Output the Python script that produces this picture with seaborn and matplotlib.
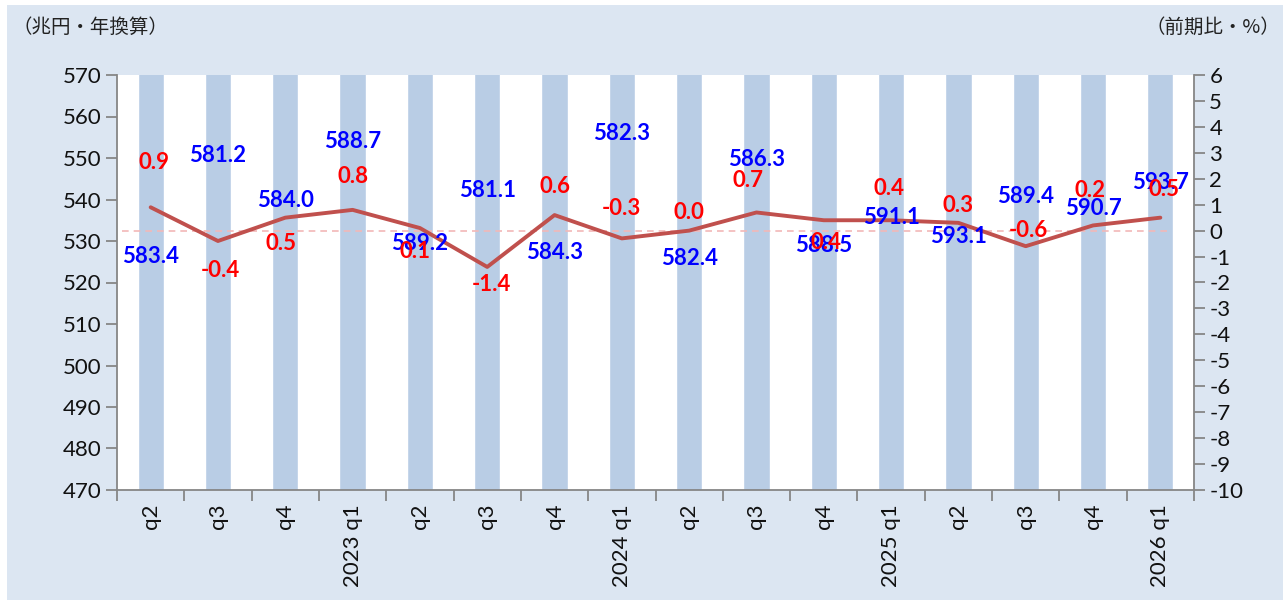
import numpy as np
import pandas as pd
import matplotlib
matplotlib.use("Agg")
import matplotlib.pyplot as plt
from matplotlib.patches import Rectangle
import seaborn as sns

# ---- data ----
categories = ["q2", "q3", "q4", "2023 q1", "q2", "q3", "q4", "2024 q1",
              "q2", "q3", "q4", "2025 q1", "q2", "q3", "q4", "2026 q1"]
gdp_level = [583.4, 581.2, 584.0, 588.7, 589.2, 581.1, 584.3, 582.3,
             582.4, 586.3, 588.5, 591.1, 593.1, 589.4, 590.7, 593.7]
qoq_growth = [0.9, -0.4, 0.5, 0.8, 0.1, -1.4, 0.6, -0.3,
              0.0, 0.7, 0.4, 0.4, 0.3, -0.6, 0.2, 0.5]
left_ticks = list(range(470, 571, 10))
right_ticks = list(range(-10, 7, 1))

# ---- label layout (y positions on right axis scale) ----
level_label_y = [-0.98, 2.91, 1.18, 3.42, -0.48, 1.53, -0.86, 3.76,
                 -1.06, 2.76, -0.59, 0.52, -0.21, 1.30, 0.87, 1.84]
growth_label_y = [2.64, -1.52, -0.48, 2.10, -0.82, -2.06, 1.72, 0.87,
                  0.68, 1.95, -0.44, 1.64, 0.95, 0.02, 1.53, 1.57]
growth_label_dx = [0.05, 0.03, -0.07, 0, -0.07, 0.07, 0, 0,
                   0, -0.13, 0.04, -0.03, 0, 0.04, -0.04, 0.05]

sns.set_theme(style="white")
plt.rcParams['font.family'] = ['Lato', 'DejaVu Sans']
plt.rcParams['axes.unicode_minus'] = False

BAR = "#B9CDE5"
LINE = "#C0504D"
BG = "#DCE6F2"
SPINE = "#868686"

fig = plt.figure(figsize=(12.83, 6.0), dpi=100, facecolor="white")
fig.patches.append(Rectangle((7 / 1283, 0), 1 - 7 / 1283, 1 - 5 / 600,
                             transform=fig.transFigure, facecolor=BG,
                             edgecolor="none", zorder=-10))

ax = fig.add_axes([117 / 1283, 1 - 490 / 600, (1194 - 117) / 1283, (490 - 75) / 600])
ax.set_facecolor("white")

n = len(categories)
idx = np.arange(n)
df = pd.DataFrame({"pos": idx, "level": gdp_level, "growth": qoq_growth})

sns.barplot(data=df, x="pos", y="level", color=BAR, width=0.39,
            saturation=1, ax=ax, native_scale=True)
ax.set_xlim(-0.5, n - 0.5)
ax.set_ylim(470, 570)
ax.set_yticks(left_ticks)
ax.set_xticks(idx)
ax.set_xticklabels(categories, rotation=90, fontsize=16, va="top", ha="center")
ax.set_xticks(np.arange(-0.5, n, 1.0), minor=True)
ax.tick_params(axis="x", which="major", length=0, pad=10)
ax.tick_params(axis="x", which="minor", length=8, width=1.3, color=SPINE,
               direction="out", bottom=True)
ax.tick_params(axis="y", labelsize=16, length=8, width=1.3, color=SPINE,
               direction="out", left=True, pad=3, labelcolor="#111111")
ax.tick_params(axis="x", labelcolor="#111111")
ax.set_xlabel("")
ax.set_ylabel("")
for s in ["top", "right"]:
    ax.spines[s].set_visible(False)
for s in ["left", "bottom"]:
    ax.spines[s].set_color(SPINE)
    ax.spines[s].set_linewidth(1.3)

ax2 = ax.twinx()
ax2.hlines(0, -0.43, n - 1 + 0.1, colors="#F2B8B8", linestyles=(0, (4, 3)),
           linewidth=1.2, zorder=1)
sns.lineplot(data=df, x="pos", y="growth", color=LINE, linewidth=2.8,
             ax=ax2, zorder=3)
ax2.set_ylim(-10, 6)
ax2.set_yticks(right_ticks)
ax2.set_xlim(-0.5, n - 0.5)
ax2.tick_params(axis="y", labelsize=16, length=8, width=1.3, color=SPINE,
                direction="out", right=True, pad=3, labelcolor="#111111")
ax2.set_ylabel("")
ax2.set_xlabel("")
for s in ["top", "left", "bottom"]:
    ax2.spines[s].set_visible(False)
ax2.spines["right"].set_color(SPINE)
ax2.spines["right"].set_linewidth(1.3)

for i in range(n):
    ax2.text(i, level_label_y[i], f"{gdp_level[i]:.1f}", color="#0000FF",
             fontsize=16, fontweight="bold", ha="center", va="center", zorder=5)
    ax2.text(i + growth_label_dx[i], growth_label_y[i], f"{qoq_growth[i]:.1f}",
             color="#FF0000", fontsize=16, fontweight="bold", ha="center",
             va="center", zorder=6)

cjk = ['Noto Sans CJK JP', 'DejaVu Sans']
fig.text(12 / 1283, 1 - 27 / 600, "（兆円・年換算）", family=cjk, fontsize=14,
         ha="left", va="center", color="#222222")
fig.text(1280 / 1283, 1 - 27 / 600, "（前期比・%）", family=cjk, fontsize=14,
         ha="right", va="center", color="#222222")

fig.savefig("out.png", dpi=100, facecolor="white")
